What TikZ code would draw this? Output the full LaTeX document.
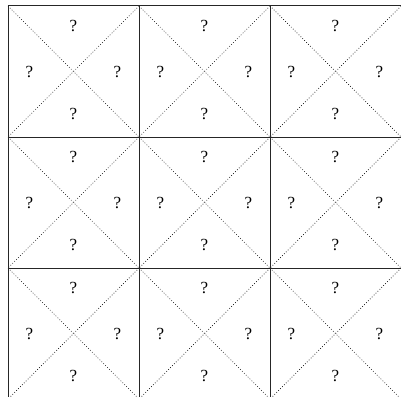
\documentclass[tikz,border=0pt]{standalone}
\usepackage{fontspec}
\setmainfont{Liberation Serif}
\begin{document}
\begin{tikzpicture}[x=1pt,y=-1pt,
  gridline/.style={line width=1pt,draw=black!85},
  diag/.style={line width=0.7pt,dotted,draw=black},
  qmark/.style={inner sep=0pt,font=\fontsize{17}{19}\selectfont}]
\useasboundingbox (0,0) rectangle (401,396);
\clip (0,0) rectangle (401,396);
\def\cs{131}
\foreach \i in {0,1,2}{
  \foreach \j in {0,1,2}{
    \pgfmathsetmacro{\xl}{8+\i*\cs}
    \pgfmathsetmacro{\yt}{6+\j*\cs}
    \pgfmathsetmacro{\xr}{\xl+\cs}
    \pgfmathsetmacro{\yb}{\yt+\cs}
    \pgfmathsetmacro{\cx}{\xl+\cs/2}
    \pgfmathsetmacro{\cy}{\yt+\cs/2}
    \coordinate (tl\i\j) at (\xl,\yt);
    \coordinate (tr\i\j) at (\xr,\yt);
    \coordinate (bl\i\j) at (\xl,\yb);
    \coordinate (br\i\j) at (\xr,\yb);
    \draw[diag] (tl\i\j) -- (br\i\j);
    \draw[diag] (tr\i\j) -- (bl\i\j);
    \node[qmark] (t\i\j) at (\cx,\cy-46) {?};
    \node[qmark] (b\i\j) at (\cx,\cy+42) {?};
    \node[qmark] (l\i\j) at (\cx-44,\cy) {?};
    \node[qmark] (r\i\j) at (\cx+44,\cy) {?};
  }
}
\foreach \k in {0,1,2,3}{
  \draw[gridline] (8+\k*\cs,6) -- (8+\k*\cs,6+3*\cs);
  \draw[gridline] (8,6+\k*\cs) -- (8+3*\cs,6+\k*\cs);
}
\end{tikzpicture}
\end{document}
